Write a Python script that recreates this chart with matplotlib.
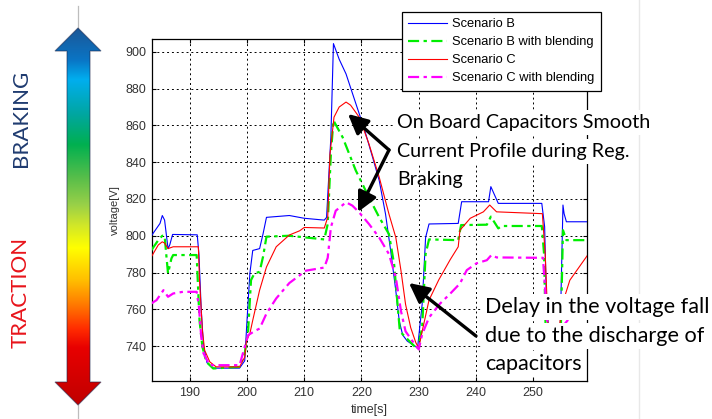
import numpy as np
import matplotlib
matplotlib.use("Agg")
import matplotlib.pyplot as plt
from matplotlib.patches import Polygon

# ---------------- data ----------------
scenario_b = [(183.3, 800), (184.8, 806.7), (185.2, 811), (185.6, 808.5), (186.2, 793),
              (186.5, 795), (187.0, 800.7), (191.3, 800.5), (191.6, 790), (192.0, 760),
              (192.4, 740), (193.0, 731), (194.0, 728), (198.7, 728), (199.6, 732),
              (200.0, 754), (200.5, 779.5), (201.0, 792), (202.2, 793), (202.8, 801),
              (203.4, 810), (207.4, 811), (210.0, 809.5), (213.5, 808.5), (213.9, 810),
              (214.65, 853.6), (215.1, 904.5), (216.1, 896), (217.3, 888), (219.0, 872),
              (220.5, 858), (222.0, 842), (223.1, 830), (224.2, 811.8), (225.1, 791.8),
              (226.0, 770), (226.6, 753.6), (227.2, 746), (228.0, 742.7), (229.8, 739),
              (230.6, 762.7), (231.2, 799), (231.8, 806.4), (236.9, 806.7), (237.5, 818.5),
              (242.2, 818.5), (242.6, 826.7), (243.9, 817.6), (251.5, 817.6), (252.0, 804.9),
              (252.3, 764.9), (252.8, 745), (254.7, 745), (255.2, 816.7), (255.4, 812),
              (255.8, 807.6), (259.4, 807.6)]

scenario_b_blend = [(183.3, 792.2), (184.5, 797.6), (185.2, 800), (185.6, 800), (185.9, 789.5),
                    (186.2, 779.5), (186.8, 787.7), (187.1, 789.5), (191.2, 789.5), (191.7, 754),
                    (192.2, 739.6), (192.9, 731.4), (194.1, 727.8), (198.7, 728.7), (199.6, 736),
                    (200.2, 748.6), (200.7, 775.9), (201.3, 779.5), (202.2, 780.4), (202.8, 788.6),
                    (203.4, 799.5), (207.4, 800), (213.5, 798), (214.1, 806.4), (214.65, 844.5),
                    (215.1, 862.7), (216.7, 853.6), (219.0, 835.5), (221.3, 820.9), (223.1, 810),
                    (224.8, 800.9), (225.7, 784.5), (226.3, 762.7), (226.7, 748.2), (227.2, 746.4),
                    (228.9, 741), (229.8, 738.2), (230.6, 750), (231.2, 790), (231.8, 798),
                    (236.9, 797.6), (237.4, 805.8), (241.9, 806), (242.6, 810.4), (243.9, 804),
                    (244.5, 805.3), (251.5, 805.3), (251.9, 790), (252.2, 745), (254.8, 745),
                    (255.2, 803), (255.8, 797.6), (259.4, 797.6)]

scenario_c = [(183.3, 788.6), (184.5, 795), (185.2, 796.7), (185.6, 796), (186.2, 793),
              (187.1, 794), (191.5, 794), (191.7, 775.9), (192.2, 748.6), (192.6, 737.7),
              (193.5, 731.4), (194.6, 728.7), (198.7, 728.7), (199.6, 734), (199.9, 743),
              (200.5, 746.8), (201.0, 754), (202.2, 770.4), (203.4, 783), (205.1, 794),
              (207.4, 800.4), (209.2, 802.7), (210.0, 804.5), (213.5, 804.2), (214.1, 810),
              (214.5, 844.5), (215.2, 864.5), (216.1, 870), (217.3, 872.7), (218.1, 871),
              (219.6, 864.5), (221.3, 850), (223.1, 831.8), (224.8, 811.8), (226.0, 799),
              (226.9, 781), (227.7, 762.7), (228.6, 750), (229.5, 741.8), (230.0, 739),
              (230.6, 748), (231.8, 765), (233.5, 776), (235.5, 787), (236.9, 794),
              (237.2, 803), (239.0, 809.5), (241.3, 813), (242.4, 816.7), (243.6, 813),
              (251.6, 812), (252.1, 790), (252.6, 750), (254.6, 750), (254.9, 761),
              (256.4, 775.8), (259.4, 789)]

scenario_c_blend = [(183.3, 763.2), (184.2, 765), (185.4, 770.4), (186.2, 766.8), (187.1, 768.6),
                    (188.8, 769.5), (191.2, 769.5), (191.6, 761.3), (192.0, 745), (192.4, 736),
                    (193.5, 729.6), (198.7, 729.6), (199.6, 739.6), (200.2, 746), (201.6, 748.6),
                    (202.2, 749.5), (203.4, 757.7), (205.1, 765.9), (207.4, 774.3), (210.3, 781),
                    (213.5, 782.7), (214.1, 788), (214.65, 804.5), (215.5, 813.6), (217.3, 818.2),
                    (218.4, 816.4), (219.6, 812.7), (221.3, 806.4), (223.1, 799), (224.8, 790),
                    (226.0, 777.3), (226.9, 759), (227.7, 748), (228.9, 742.7), (230.0, 738.2),
                    (230.6, 746.4), (231.8, 755.5), (233.7, 763), (235.5, 768.5), (237.2, 774),
                    (238.4, 781.3), (240.1, 785), (241.9, 786.7), (242.7, 789.5), (243.6, 788.2),
                    (251.7, 788), (252.1, 770), (252.6, 745), (254.8, 745), (255.5, 752),
                    (259.4, 767)]

series_labels = ["Scenario B", "Scenario B with blending", "Scenario C", "Scenario C with blending"]
x_ticks = [190, 200, 210, 220, 230, 240, 250]
y_ticks = [740, 760, 780, 800, 820, 840, 860, 880, 900]

note_top = ["On Board Capacitors Smooth", "Current Profile during Reg.", "Braking"]
note_bottom = ["Delay in the voltage fall", "due to the discharge of", "capacitors"]

# ---------------- figure ----------------
W, H = 712, 419
fig = plt.figure(figsize=(W / 100, H / 100), dpi=100)
fig.patch.set_facecolor("white")

ax = fig.add_axes([152 / W, 1 - 381 / H, (587 - 152) / W, (381 - 39) / H])
ax.set_xlim(183.4, 259.4)
ax.set_ylim(721, 907)

dashdot = (0, (5, 2, 1.5, 2))
styles = [dict(color="#0000ff", lw=0.8, ls="-"),
          dict(color="#00ee00", lw=1.6, ls=dashdot),
          dict(color="#ff0000", lw=0.8, ls="-"),
          dict(color="#ff00ff", lw=1.6, ls=dashdot)]
handles = []
for data, st, lab in zip([scenario_b, scenario_b_blend, scenario_c, scenario_c_blend], styles, series_labels):
    d = np.array(data)
    ln, = ax.plot(d[:, 0], d[:, 1], label=lab, zorder=3, **st)
    handles.append(ln)

ax.set_xticks(x_ticks)
ax.set_yticks(y_ticks)
tick_font = dict(family="Liberation Sans", size=9)
ax.set_xticklabels([str(v) for v in x_ticks], fontdict=tick_font, color="#333333")
ax.set_yticklabels([str(v) for v in y_ticks], fontdict=tick_font, color="#333333")
ax.tick_params(direction="in", length=3, width=0.8, pad=4, top=True, right=True)
ax.grid(True, color="black", ls=(0, (2, 3)), lw=0.7)
for s in ax.spines.values():
    s.set_color("black")
    s.set_linewidth(0.9)
ax.set_xlabel("time[s]", family="Liberation Sans", fontsize=9, color="#333333", labelpad=4)
ax.set_ylabel("voltage[V]", family="Liberation Sans", fontsize=8, color="#333333", labelpad=4)

leg = ax.legend(handles=handles, loc="upper left", bbox_to_anchor=(402 / W, 1 - 12 / H),
                bbox_transform=fig.transFigure, prop=dict(family="Liberation Sans", size=9.3),
                frameon=True, fancybox=False, framealpha=1, edgecolor="black",
                borderaxespad=0, handlelength=3.0, handletextpad=0.4, labelspacing=0.45,
                borderpad=0.5)
leg.get_frame().set_linewidth(0.9)
leg.set_zorder(10)

# ---------------- overlay (pixel coords) ----------------
ov = fig.add_axes([0, 0, 1, 1], zorder=5)
ov.set_xlim(0, W)
ov.set_ylim(H, 0)
ov.axis("off")
ov.patch.set_alpha(0)

# faint slide line
ov.plot([639, 639], [0, H], color="#e8e8e8", lw=1, zorder=0)

# gradient double arrow
cx = 78
arrow_pts = [(cx, 28), (55, 51), (67, 51), (67, 382), (55, 382), (cx, 405),
             (101, 382), (90, 382), (90, 51), (101, 51)]
stops = [(28, "#1c5796"), (60, "#0a74c4"), (80, "#00aeef"), (115, "#00a6a0"),
         (145, "#00b050"), (180, "#5cbf4a"), (205, "#98d048"), (225, "#cfe62a"),
         (248, "#ffff00"), (280, "#ffc000"), (305, "#ff7a00"), (330, "#ff2a00"),
         (348, "#e80000"), (405, "#c00000")]
ys = np.linspace(28, 405, 400)
sy = np.array([s[0] for s in stops], float)
sc = np.array([matplotlib.colors.to_rgb(s[1]) for s in stops])
grad = np.stack([np.interp(ys, sy, sc[:, k]) for k in range(3)], axis=1)[:, None, :]
im = ov.imshow(grad, extent=(55, 101, 405, 28), origin="upper", aspect="auto",
               interpolation="bilinear", zorder=1)
poly = Polygon(arrow_pts, closed=True, facecolor="none", edgecolor=(0.1, 0.15, 0.3, 0.55), lw=0.8, zorder=2)
ov.add_patch(poly)
im.set_clip_path(poly)
ov.plot([cx, cx], [6, 28], color="#bdbdbd", lw=0.9, zorder=0)
ov.plot([cx, cx], [405, H], color="#bdbdbd", lw=0.9, zorder=0)
ov.set_xlim(0, W)
ov.set_ylim(H, 0)

side_font = dict(family="Lato", size=16)
ov.text(21, 118, "BRAKING", rotation=90, ha="center", va="center", color="#1f3b70", **side_font)
ov.text(21, 292, "TRACTION", rotation=90, ha="center", va="center", color="#e8141b", **side_font)

# annotation texts
top_font = dict(family="Lato", size=14.25, color="black")
bot_font = dict(family="Lato", size=15.6, color="black")
top_base = [128, 157, 185]
bot_base = [313, 342, 370]
for i, line in enumerate(note_top):
    kw = dict(bbox=dict(facecolor="white", edgecolor="none", pad=2.6)) if i < 2 else {}
    ov.text(397, top_base[i], line, ha="left", va="baseline", zorder=6, **kw, **top_font)
for i, line in enumerate(note_bottom):
    ov.text(485, bot_base[i], line, ha="left", va="baseline", zorder=6,
            bbox=dict(facecolor="white", edgecolor="none", pad=2.0), **bot_font)

aprops = dict(arrowstyle="-|>,head_length=0.6,head_width=0.3", color="black", lw=2.4,
              shrinkA=0, shrinkB=0, mutation_scale=20)
ov.annotate("", xy=(348, 114), xytext=(389, 150), arrowprops=aprops, zorder=7)
ov.annotate("", xy=(358, 212), xytext=(389, 150), arrowprops=aprops, zorder=7)
ov.annotate("", xy=(409, 283), xytext=(476, 336), arrowprops=aprops, zorder=7)

fig.savefig("out.png", dpi=100, facecolor="white")
